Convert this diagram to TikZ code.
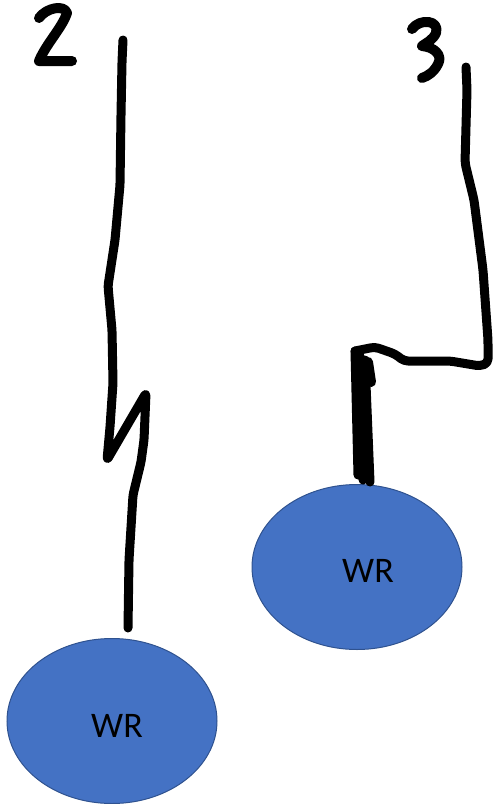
\documentclass[tikz,border=0pt]{standalone}
\usepackage{fontspec}
\setmainfont{Carlito}
\usetikzlibrary{shapes.geometric}
\definecolor{wrfill}{HTML}{4472C4}
\definecolor{wrdraw}{HTML}{2F528F}
\tikzset{
  ink/.style={line width=9pt, line cap=round, line join=round, black},
  wrnode/.style={ellipse, fill=wrfill, draw=wrdraw, line width=1pt, minimum width=210pt, minimum height=165pt, inner sep=0pt},
  wrtext/.style={font=\fontsize{36}{42}\selectfont, text=black, inner sep=0pt}
}
\begin{document}
\begin{tikzpicture}[x=1pt,y=-1pt]
\useasboundingbox (0,0) rectangle (499,804);
% ellipses
\node[wrnode] (wr1) at (112,721) {};
\node[wrtext] (t1) at (117,726) {WR};
\node[wrnode] (wr2) at (357,567) {};
\node[wrtext] (t2) at (368,571) {WR};
% digit 2
\draw[ink, line width=10pt] (39,18) .. controls (46,8) and (64,4) .. (67,13) .. controls (62,28) and (46,44) .. (39,61) -- (72,61);
% digit 3
\draw[ink, line width=10pt] (412,29) .. controls (420,18) and (440,20) .. (436,33) .. controls (433,40) and (426,43) .. (422,46) .. controls (434,47) and (443,55) .. (438,64) .. controls (434,72) and (428,76) .. (422,78);
% line 2
\coordinate (s2) at (123,40);
\coordinate (e2) at (128,628);
\draw[ink, rounded corners=3pt] (s2) -- (122,62) -- (121,115) -- (120,185) -- (115,240) -- (108,286) -- (112,330) -- (113,383) -- (110,427) -- (107,460)
  -- (146,393) -- (144,440) -- (141,462) -- (133,495) -- (129,560) -- (e2);
% line 3
\coordinate (s3) at (466,67);
\coordinate (c3) at (355,351);
\draw[ink, rounded corners=4pt] (s3) -- (467,90) -- (465,163) -- (474,200) -- (483,270) -- (488,340) -- (488,363) -- (480,366) -- (450,361) -- (404,361) -- (395,354) -- (375,347) -- (c3);
% thick bar
\draw[ink] (c3) -- (358,475);
\draw[ink] (365,360) -- (370,482);
\draw[ink] (360,356) -- (363,480);
\draw[ink, line width=10pt] (368,362) -- (371,382);
\end{tikzpicture}
\end{document}
